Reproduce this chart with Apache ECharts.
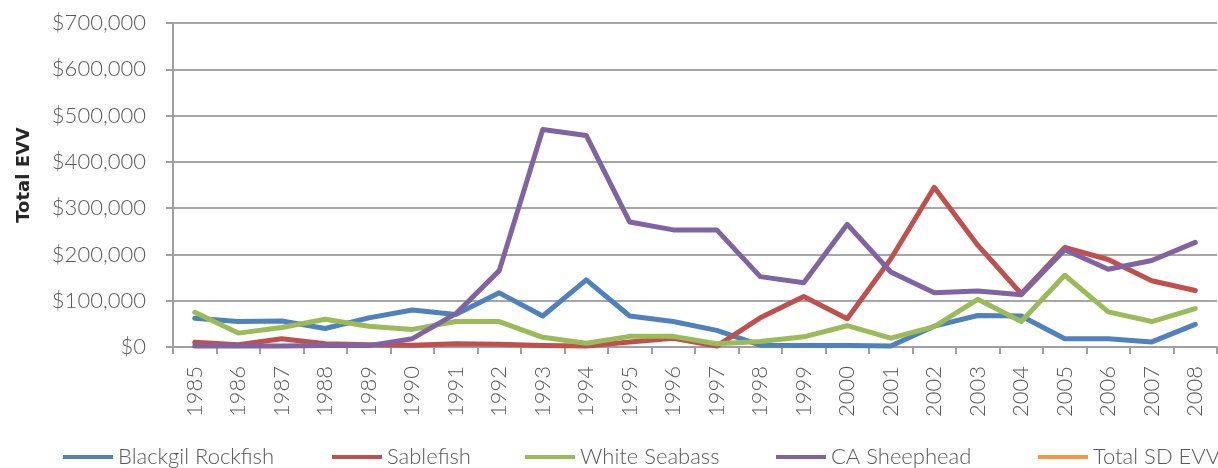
<!DOCTYPE html>
<html>
<head>
<meta charset="utf-8">
<script src="https://cdn.jsdelivr.net/npm/echarts@6/dist/echarts.min.js"></script>
<style>
  html, body { margin: 0; padding: 0; background: #fff; }
  #chart { width: 1218px; height: 468px; }
</style>
</head>
<body>
<div id="chart"></div>
<script>
var years = ["1985", "1986", "1987", "1988", "1989", "1990", "1991", "1992", "1993", "1994", "1995", "1996",
  "1997", "1998", "1999", "2000", "2001", "2002", "2003", "2004", "2005", "2006", "2007", "2008"];

// values in dollars
var blackgilRockfish = [62000, 55000, 56000, 40000, 63000, 80000, 70000, 117000, 67000, 145000, 67000, 55000,
  36000, 4000, 3000, 3000, 2000, 45000, 68000, 67000, 18000, 18000, 11000, 49000];
var sablefish = [10000, 5000, 18000, 7000, 5000, 4000, 7000, 6000, 3000, 2000, 11000, 19000,
  2000, 63000, 109000, 61000, 190000, 345000, 220000, 115000, 215000, 189000, 143000, 122000];
var whiteSeabass = [75000, 30000, 42000, 60000, 45000, 38000, 55000, 55000, 21000, 8000, 23000, 23000,
  7000, 12000, 22000, 46000, 19000, 44000, 103000, 55000, 155000, 76000, 55000, 83000];
var caSheephead = [2000, 2000, 2000, 3000, 3000, 18000, 72000, 165000, 470000, 457000, 270000, 253000,
  253000, 152000, 139000, 265000, 162000, 117000, 121000, 113000, 210000, 168000, 187000, 226000];
var totalSdEvv = [];

var seriesNames = ["Blackgil Rockfish", "Sablefish", "White Seabass", "CA Sheephead", "Total SD EVV"];
var yTicks = [0, 100000, 200000, 300000, 400000, 500000, 600000, 700000];

var chart = echarts.init(document.getElementById("chart"));

var labelFont = "Lato, 'Open Sans', sans-serif";
var textColor = "#595959";

function money(v) {
  return "$" + v.toLocaleString("en-US");
}

function line(name, data, color) {
  return {
    name: name,
    type: "line",
    data: data,
    symbol: "none",
    lineStyle: { color: color, width: 5, cap: "round", join: "round" },
    itemStyle: { color: color }
  };
}

// one legend per item so each sits where the original puts it
var legendLefts = [58, 327, 520, 771, 1033];
var legends = seriesNames.map(function (n, i) {
  return {
    left: legendLefts[i],
    top: 441,
    itemWidth: 50,
    itemHeight: 4,
    icon: "rect",
    textStyle: {
      color: textColor,
      fontFamily: labelFont,
      fontSize: 22,
      fontWeight: 300
    },
    data: [n]
  };
});

var option = {
  animation: false,
  grid: {
    left: 173,
    top: 23,
    right: 1,
    bottom: 121
  },
  legend: legends,
  graphic: [
    {
      type: "text",
      x: 24,
      y: 175,
      rotation: Math.PI / 2,
      style: {
        text: "Total EVV",
        fill: "#262626",
        font: "bold 18px 'DejaVu Sans', sans-serif",
        align: "center",
        verticalAlign: "middle"
      }
    }
  ],
  xAxis: {
    type: "category",
    data: years,
    boundaryGap: true,
    axisLine: { lineStyle: { color: "#A0A0A0", width: 2 } },
    axisTick: { show: true, length: 7, lineStyle: { color: "#A0A0A0", width: 2 } },
    axisLabel: {
      rotate: 90,
      color: textColor,
      fontFamily: labelFont,
      fontSize: 22,
      fontWeight: 300,
      margin: 19
    },
    splitLine: { show: false }
  },
  yAxis: {
    type: "value",
    min: yTicks[0],
    max: yTicks[yTicks.length - 1],
    interval: 100000,
    axisLine: { show: true, lineStyle: { color: "#A0A0A0", width: 2 } },
    axisTick: { show: true, length: 7, lineStyle: { color: "#A0A0A0", width: 2 } },
    axisLabel: {
      color: textColor,
      fontFamily: labelFont,
      fontSize: 22,
      fontWeight: 300,
      margin: 27,
      formatter: money
    },
    splitLine: { lineStyle: { color: "#A6A6A6", width: 2 } }
  },
  series: [
    line(seriesNames[0], blackgilRockfish, "#4F81BD"),
    line(seriesNames[1], sablefish, "#C0504D"),
    line(seriesNames[2], whiteSeabass, "#9BBB59"),
    line(seriesNames[3], caSheephead, "#8064A2"),
    line(seriesNames[4], totalSdEvv, "#F79646")
  ]
};

chart.setOption(option);
</script>
</body>
</html>
